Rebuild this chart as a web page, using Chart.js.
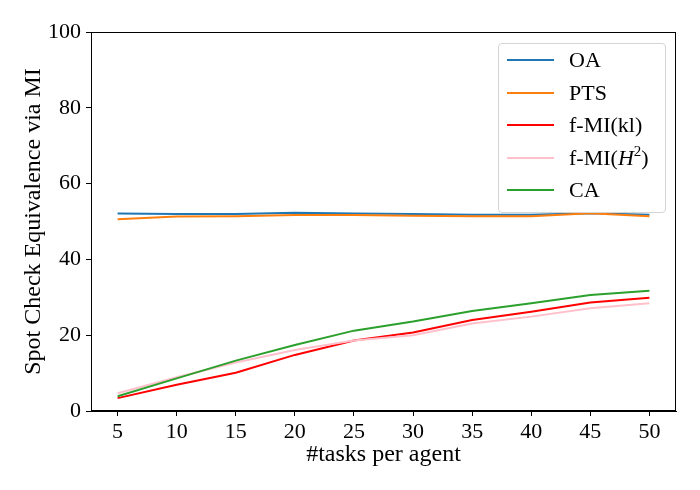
<!DOCTYPE html>
<html>
<head>
    <title>Spot Check Equivalence via MI</title>
    <script src="https://cdn.jsdelivr.net/npm/chart.js"></script>
    <style>
        body { margin: 0; background: white; }
        #wrap { position: relative; width: 700px; height: 490px; }
        #legend {
            position: absolute; left: 498px; top: 43px; width: 168px; height: 170px;
            border: 1px solid #d5d5d5; border-radius: 4px; background: rgba(255,255,255,0.8);
            font-family: "Liberation Serif", "DejaVu Serif", serif; font-size: 22px;
            box-sizing: border-box; padding-top: 0px;
        }
        .row { position: relative; height: 32.5px; }
        .swatch { position: absolute; left: 8px; top: 15px; width: 47px; height: 2px; }
        .label { position: absolute; left: 70px; top: 0; line-height: 32px; white-space: nowrap; }
    </style>
</head>
<body>
    <div id="wrap">
        <canvas id="chart" width="700" height="490"></canvas>
        <div id="legend"></div>
    </div>

    <script>
        // values
        const tasks = [5, 10, 15, 20, 25, 30, 35, 40, 45, 50];
        const yTicks = [0, 20, 40, 60, 80, 100];
        const oa   = [52.1, 52.0, 52.0, 52.3, 52.1, 52.0, 51.8, 51.8, 52.2, 51.8];
        const pts  = [50.6, 51.3, 51.4, 51.7, 51.7, 51.5, 51.4, 51.4, 52.2, 51.4];
        const fmiKl = [3.4, 6.9, 10.1, 14.8, 18.6, 20.7, 24.0, 26.2, 28.6, 29.9];
        const fmiH2 = [4.7, 8.9, 12.8, 16.1, 18.6, 20.0, 23.1, 24.9, 27.1, 28.4];
        const ca   = [3.9, 8.6, 13.3, 17.4, 21.2, 23.6, 26.4, 28.4, 30.6, 31.7];

        const series = [
            { name: 'OA', html: 'OA', data: oa, color: '#1f77b4' },
            { name: 'PTS', html: 'PTS', data: pts, color: '#ff7f0e' },
            { name: 'f-MI(kl)', html: 'f-MI(kl)', data: fmiKl, color: '#ff0000' },
            { name: 'f-MI(H²)', html: 'f-MI(<i>H</i><sup style="font-size:15px;vertical-align:9px;line-height:0">2</sup>)', data: fmiH2, color: '#ffc0cb' },
            { name: 'CA', html: 'CA', data: ca, color: '#2ca02c' }
        ];

        const font = "'Liberation Serif', 'DejaVu Serif', serif";

        // box around the plot area, like matplotlib spines
        const frame = {
            id: 'frame',
            afterDatasetsDraw(chart) {
                const a = chart.chartArea, c = chart.ctx;
                c.save();
                c.strokeStyle = '#000';
                c.lineWidth = 1;
                c.strokeRect(a.left + 0.5, a.top + 0.5, a.right - a.left - 1, a.bottom - a.top - 1);
                c.restore();
            }
        };

        const ctx = document.getElementById('chart').getContext('2d');
        const chart = new Chart(ctx, {
            type: 'line',
            data: {
                datasets: series.map((s, i) => ({
                    label: s.name,
                    data: tasks.map((t, j) => ({ x: t, y: s.data[j] })),
                    borderColor: s.color,
                    backgroundColor: s.color,
                    borderWidth: 2,
                    pointRadius: 0,
                    tension: 0,
                    order: series.length - i
                }))
            },
            options: {
                responsive: false,
                animation: false,
                layout: { padding: { left: 0, top: 32, right: 24, bottom: 0 } },
                plugins: { legend: { display: false }, tooltip: { enabled: false } },
                scales: {
                    x: {
                        type: 'linear',
                        min: 2.75,
                        max: 52.25,
                        afterBuildTicks: (scale) => { scale.ticks = tasks.map(v => ({ value: v })); },
                        afterFit: (scale) => { scale.height = 79; },
                        grid: { drawOnChartArea: false, drawTicks: true, tickLength: 5, color: '#000' },
                        border: { display: true, color: '#000' },
                        ticks: { color: '#000', font: { family: font, size: 22 }, padding: 3, maxRotation: 0 },
                        title: {
                            display: true, text: '#tasks per agent', color: '#000',
                            font: { family: font, size: 24 }, padding: { top: 0, bottom: 21 }
                        }
                    },
                    y: {
                        min: 0,
                        max: 100,
                        afterBuildTicks: (scale) => { scale.ticks = yTicks.map(v => ({ value: v })); },
                        afterFit: (scale) => { scale.width = 91; },
                        grid: { drawOnChartArea: false, drawTicks: true, tickLength: 5, color: '#000' },
                        border: { display: true, color: '#000' },
                        ticks: { color: '#000', font: { family: font, size: 22 }, padding: 5 },
                        title: {
                            display: true, text: 'Spot Check Equivalence via MI', color: '#000',
                            font: { family: font, size: 24 }, padding: { top: 19, bottom: 0 }
                        }
                    }
                }
            },
            plugins: [frame]
        });

        // legend drawn in html so the H can be italic with a superscript
        const legend = document.getElementById('legend');
        series.forEach(s => {
            const row = document.createElement('div');
            row.className = 'row';
            row.innerHTML = '<div class="swatch" style="background:' + s.color + '"></div>' +
                '<div class="label">' + s.html + '</div>';
            legend.appendChild(row);
        });
    </script>
</body>
</html>
